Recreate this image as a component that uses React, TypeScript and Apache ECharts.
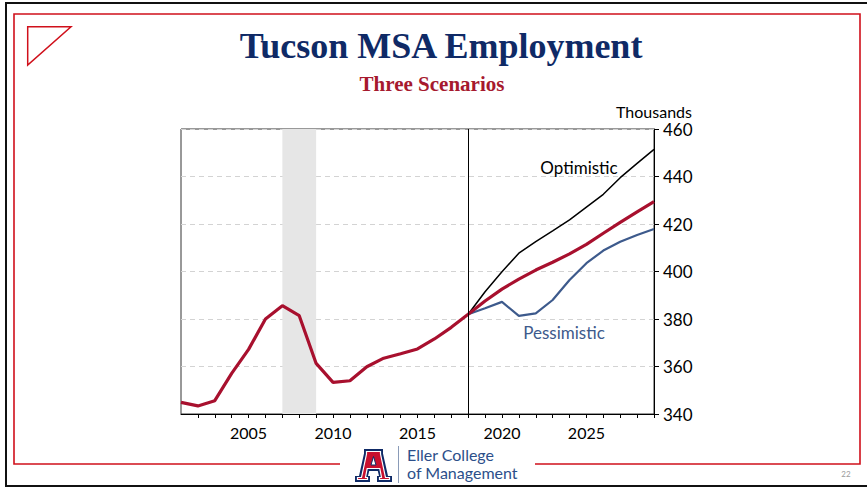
import React, { useEffect, useRef } from "react";
import * as echarts from "echarts";

const years = [2001, 2002, 2003, 2004, 2005, 2006, 2007, 2008, 2009, 2010, 2011, 2012, 2013, 2014, 2015, 2016, 2017, 2018, 2019, 2020, 2021, 2022, 2023, 2024, 2025, 2026, 2027, 2028, 2029];
const baseline = [344.9, 343.4, 345.6, 357.1, 367.2, 380.0, 385.6, 381.4, 361.3, 353.3, 354.0, 359.9, 363.5, 365.4, 367.4, 371.6, 376.5, 382.0, 387.6, 392.6, 396.8, 400.6, 403.9, 407.4, 411.4, 416.1, 420.7, 425.1, 429.4];
const forecastYears = [2018, 2019, 2020, 2021, 2022, 2023, 2024, 2025, 2026, 2027, 2028, 2029];
const optimistic = [382.0, 391.5, 399.9, 407.7, 412.6, 417.1, 421.7, 427.1, 432.5, 439.5, 445.5, 451.4];
const pessimistic = [382.0, 384.5, 387.2, 381.3, 382.4, 388.0, 396.4, 403.5, 408.8, 412.5, 415.4, 417.9];
const recession = [2007, 2009];
const forecastStart = 2018;
const yTicks = { min: 340, max: 460, step: 20 };

const FONT = "Lato, 'Open Sans', sans-serif";
const RED = "#a8102e";
const BLUE = "#3d5a8c";
const NAVY = "#0f2a66";

export default function App() {
  const ref = useRef<HTMLDivElement>(null);
  useEffect(() => {
    if (!ref.current) return;
    const chart = echarts.init(ref.current, null, { renderer: "svg" });
    const pair = (xs: number[], ys: number[]) => xs.map((x, i) => [x, ys[i]]);

    // simplified block "A" logo
    const ox = 355, oy = 449;
    const pts = (a: number[][]) => a.map(([x, y]) => [ox + x, oy + y]);
    const outerA = [[9, 0], [28, 0], [28, 4.5], [33, 27], [37, 27], [37, 33], [22, 33], [22, 27], [24, 27], [22.8, 22], [14.2, 22], [13, 27], [15, 27], [15, 33], [0, 33], [0, 27], [4, 27], [9, 4.5]];
    const innerA = [[11.5, 2.5], [25.5, 2.5], [25.5, 5], [30.5, 28.5], [34.5, 28.5], [34.5, 30.5], [24.5, 30.5], [24.5, 28.5], [26.5, 28.5], [24.8, 19.5], [12.2, 19.5], [10.5, 28.5], [12.5, 28.5], [12.5, 30.5], [2.5, 30.5], [2.5, 28.5], [6.5, 28.5], [11.5, 5]];
    const counter = [[18.5, 7.5], [16, 16], [21, 16]];

    chart.setOption({
      animation: false,
      backgroundColor: "#fff",
      grid: { left: 181, top: 129, right: 213, bottom: 74, show: true, borderColor: "#333", borderWidth: 1 },
      xAxis: {
        type: "value",
        min: years[0],
        max: years[years.length - 1],
        interval: 1,
        axisLine: { show: true, lineStyle: { color: "#000", width: 1 } },
        axisTick: { show: true, length: 4, lineStyle: { color: "#000" } },
        axisLabel: {
          color: "#000",
          fontFamily: FONT,
          fontSize: 16,
          margin: 10,
          showMinLabel: false,
          formatter: (v: number) => (v % 5 === 0 ? String(v) : ""),
        },
        splitLine: { show: false },
      },
      yAxis: {
        type: "value",
        position: "right",
        min: yTicks.min,
        max: yTicks.max,
        interval: yTicks.step,
        name: "Thousands",
        nameLocation: "end",
        nameGap: 10,
        nameTextStyle: { color: "#000", fontFamily: FONT, fontSize: 16, align: "center" },
        axisLine: { show: true, lineStyle: { color: "#000", width: 1 } },
        axisTick: { show: true, length: 5, lineStyle: { color: "#000" } },
        axisLabel: { color: "#000", fontFamily: FONT, fontSize: 17, margin: 9 },
        splitLine: { show: true, lineStyle: { color: "#d3d3d3", type: [5, 4], width: 1 } },
      },
      series: [
        {
          type: "line",
          name: "Optimistic",
          data: pair(forecastYears, optimistic),
          symbol: "none",
          lineStyle: { color: "#000", width: 1.5 },
          z: 3,
        },
        {
          type: "line",
          name: "Pessimistic",
          data: pair(forecastYears, pessimistic),
          symbol: "none",
          lineStyle: { color: BLUE, width: 2.2 },
          z: 3,
        },
        {
          type: "line",
          name: "Baseline",
          data: pair(years, baseline),
          symbol: "none",
          lineStyle: { color: RED, width: 3.2 },
          z: 4,
          markArea: {
            silent: true,
            itemStyle: { color: "#e6e6e6" },
            data: [[{ xAxis: recession[0] }, { xAxis: recession[1] }]],
            z: 1,
          },
          markLine: {
            silent: true,
            symbol: "none",
            label: { show: false },
            lineStyle: { color: "#000", type: "solid", width: 1 },
            data: [{ xAxis: forecastStart }],
          },
        },
      ],
      graphic: [
        // outer black frame
        { type: "rect", shape: { x: 6, y: 3, width: 880, height: 483 }, style: { fill: "none", stroke: "#111", lineWidth: 2 }, z: 10 },
        // red frame with gap for logo
        {
          type: "polyline",
          shape: { points: [[340, 464], [14, 464], [14, 14], [860, 14], [860, 464], [535, 464]] },
          style: { fill: "none", stroke: "#d0101b", lineWidth: 1.6 },
          z: 10,
        },
        {
          type: "polygon",
          shape: { points: [[27.7, 26.7], [71, 26.7], [27.7, 65]] },
          style: { fill: "none", stroke: "#d0101b", lineWidth: 1.5 },
          z: 10,
        },
        {
          type: "text",
          x: 441,
          y: 46,
          style: { text: "Tucson MSA Employment", fill: NAVY, font: "bold 36px 'Liberation Serif', 'Times New Roman', serif", align: "center", verticalAlign: "middle" },
          z: 10,
        },
        {
          type: "text",
          x: 432,
          y: 84,
          style: { text: "Three Scenarios", fill: "#a6192e", font: "bold 21px 'Liberation Serif', 'Times New Roman', serif", align: "center", verticalAlign: "middle" },
          z: 10,
        },
        {
          type: "text",
          x: 579,
          y: 167,
          style: { text: "Optimistic", fill: "#000", font: `17px ${FONT}`, align: "center", verticalAlign: "middle" },
          z: 10,
        },
        {
          type: "text",
          x: 564,
          y: 332,
          style: { text: "Pessimistic", fill: BLUE, font: `17px ${FONT}`, align: "center", verticalAlign: "middle" },
          z: 10,
        },
        // logo
        { type: "polygon", shape: { points: pts(outerA) }, style: { fill: NAVY }, z: 10 },
        { type: "polygon", shape: { points: pts(innerA) }, style: { fill: "#c8102e", stroke: "#fff", lineWidth: 1.2 }, z: 11 },
        { type: "polygon", shape: { points: pts(counter) }, style: { fill: "#fff", stroke: NAVY, lineWidth: 1 }, z: 12 },
        { type: "line", shape: { x1: 398.5, y1: 446, x2: 398.5, y2: 483 }, style: { stroke: "#8a9bb8", lineWidth: 1 }, z: 10 },
        {
          type: "text",
          x: 407,
          y: 454.5,
          style: { text: "Eller College", fill: "#2c4f8a", font: `16px ${FONT}`, align: "left", verticalAlign: "middle" },
          z: 10,
        },
        {
          type: "text",
          x: 407,
          y: 472.5,
          style: { text: "of Management", fill: "#2c4f8a", font: `16px ${FONT}`, align: "left", verticalAlign: "middle" },
          z: 10,
        },
        {
          type: "text",
          x: 846,
          y: 474,
          style: { text: "22", fill: "#9a9a9a", font: `8px ${FONT}`, align: "center", verticalAlign: "middle" },
          z: 10,
        },
      ],
    });
    return () => chart.dispose();
  }, []);
  return (
    <div
      ref={ref}
      style={{ position: "fixed", left: 0, top: 0, width: 867, height: 488, background: "#fff" }}
    />
  );
}
